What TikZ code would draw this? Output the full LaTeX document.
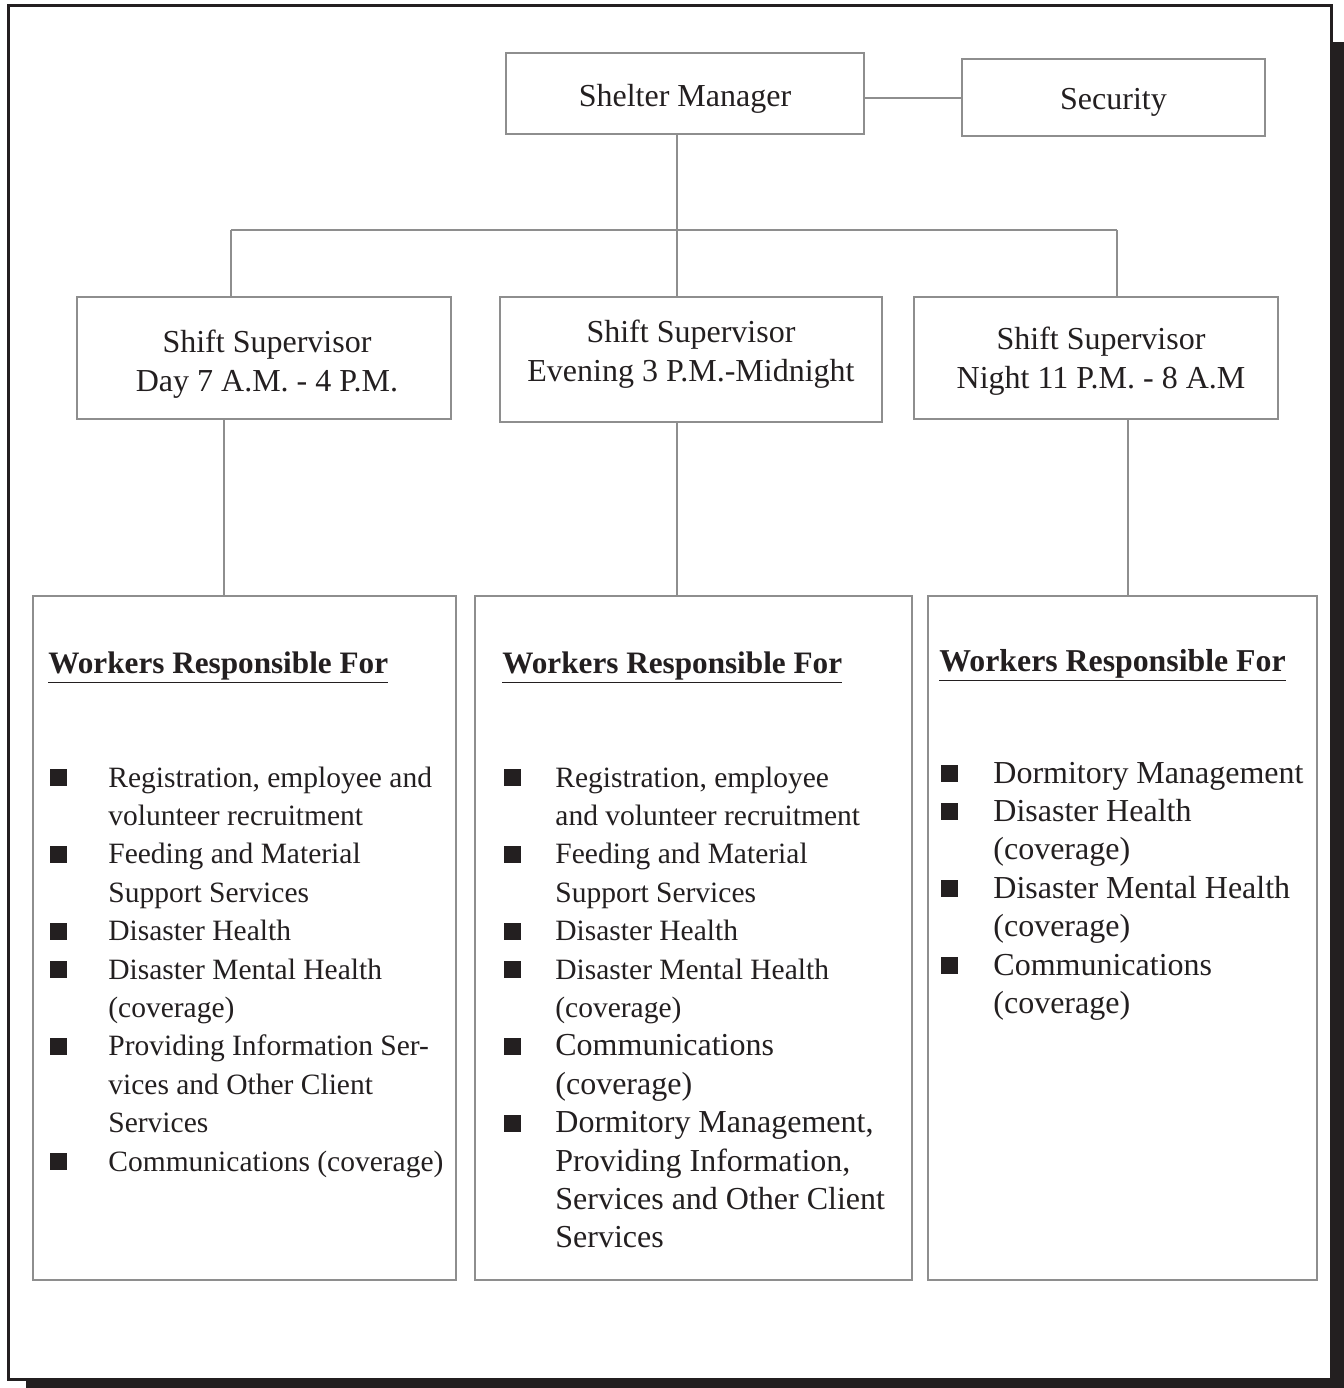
\documentclass[tikz,border=0pt]{standalone}
\usepackage{fontspec}
\setmainfont{Liberation Serif}
\definecolor{ink}{HTML}{231F20}
\definecolor{boxgray}{HTML}{8E8E8E}
\newcommand{\sqbullet}{\raisebox{0.5pt}{\color{ink}\rule{8.5pt}{8.5pt}}}
\newcommand{\cnd}{\fontsize{14.75}{19.2}\selectfont}
\newcommand{\nrm}{\fontsize{16}{19.2}\selectfont}
\begin{document}
\begin{tikzpicture}[x=0.5pt, y=-0.5pt]
        \tikzstyle{every node} = [inner sep=0pt, text=ink, font=\fontsize{16}{19.5}\selectfont]
        \tikzstyle{post} = [draw=boxgray, line width=1.2pt, rectangle]
        \tikzstyle{caption} = [align=center]
        \tikzstyle{wire} = [draw=boxgray, line width=1pt]
        \tikzstyle{heading} = [anchor=base west, font=\fontsize{15.6}{19.2}\selectfont\bfseries]
        \tikzstyle{duties} = [anchor=base west, align=left]
        \useasboundingbox (0,0) rectangle (1344,1388);

        % frame with shadow
        \fill[ink] (1331,42) rectangle (1344,1388);
        \fill[ink] (26,1379) rectangle (1344,1388);
        \draw[ink, line width=1.5pt, fill=white] (8,5) rectangle (1331,1379);

        % top level
        \node[post, minimum width=179pt, minimum height=40.5pt](manager) at (685,93.5){};
        \node[caption, yshift=-2.5pt](managertext) at (manager.center){Shelter Manager};
        \node[post, minimum width=151.5pt, minimum height=38.5pt](security) at (1113.5,97.5){};
        \node[caption, yshift=-2.5pt](securitytext) at (security.center){Security};

        % shift supervisors
        \node[post, minimum width=187pt, minimum height=61pt](day) at (264,358){};
        \node[caption, xshift=1.5pt, yshift=-3pt](daytext) at (day.center){Shift Supervisor\\Day 7 A.M. - 4 P.M.};
        \node[post, minimum width=191pt, minimum height=62.5pt](evening) at (691,359.5){};
        \node[caption](eveningtext) at (691,354.5){Shift Supervisor\\Evening 3 P.M.-Midnight};
        \node[post, minimum width=182pt, minimum height=61pt](night) at (1096,358){};
        \node[caption, xshift=2.5pt, yshift=-1.5pt](nighttext) at (night.center){Shift Supervisor\\Night 11 P.M. - 8 A.M};

        % worker boxes
        \node[post, minimum width=211.5pt, minimum height=342pt](daybox) at (244.5,938){};
        \node[post, minimum width=218.5pt, minimum height=342pt](eveningbox) at (693.5,938){};
        \node[post, minimum width=194.5pt, minimum height=342pt](nightbox) at (1122.5,938){};

        % connectors
        \coordinate (trunk) at (677,230);
        \coordinate (busL) at (231,230);
        \coordinate (busR) at (1117,230);
        \coordinate (dropday) at (224,0);
        \coordinate (dropnight) at (1128,0);
        \path[wire] (manager.east |- security.west) -- (security.west);
        \path[wire] (trunk |- manager.south) -- (trunk |- evening.north);
        \path[wire] (busL) -- (busR);
        \path[wire] (busL) -- (busL |- day.north);
        \path[wire] (busR) -- (busR |- night.north);
        \path[wire] (dropday |- day.south) -- (dropday |- daybox.north);
        \path[wire] (trunk |- evening.south) -- (trunk |- eveningbox.north);
        \path[wire] (dropnight |- night.south) -- (dropnight |- nightbox.north);

        % headings
        \node[heading](dayhead) at (48,673){\underline{Workers Responsible For}};
        \node[heading](eveninghead) at (502,673){\underline{Workers Responsible For}};
        \node[heading, font=\fontsize{15.9}{19.2}\selectfont\bfseries](nighthead) at (939,671){\underline{Workers Responsible For}};

        % duty lists
        \node[duties](daylist) at (50,787){\cnd\begin{tabular}[t]{@{}p{29pt}@{}l@{}}
            \sqbullet & Registration, employee and\\
            & volunteer recruitment\\
            \sqbullet & Feeding and Material\\
            & Support Services\\
            \sqbullet & Disaster Health\\
            \sqbullet & Disaster Mental Health\\
            & (coverage)\\
            \sqbullet & Providing Information Ser-\\
            & vices and Other Client\\
            & Services\\
            \sqbullet & Communications (coverage)
        \end{tabular}};
        \node[duties](eveninglist) at (504,787){\cnd\begin{tabular}[t]{@{}p{25.5pt}@{}l@{}}
            \sqbullet & Registration, employee\\
            & and volunteer recruitment\\
            \sqbullet & Feeding and Material\\
            & Support Services\\
            \sqbullet & Disaster Health\\
            \sqbullet & Disaster Mental Health\\
            & (coverage)\\
            \sqbullet & \nrm Communications\\
            & \nrm (coverage)\\
            \sqbullet & \nrm Dormitory Management,\\
            & \nrm Providing Information,\\
            & \nrm Services and Other Client\\
            & \nrm Services
        \end{tabular}};
        \node[duties](nightlist) at (941,783){\nrm\begin{tabular}[t]{@{}p{26pt}@{}l@{}}
            \sqbullet & Dormitory Management\\
            \sqbullet & Disaster Health\\
            & (coverage)\\
            \sqbullet & Disaster Mental Health\\
            & (coverage)\\
            \sqbullet & Communications\\
            & (coverage)
        \end{tabular}};
    \end{tikzpicture}
\end{document}
